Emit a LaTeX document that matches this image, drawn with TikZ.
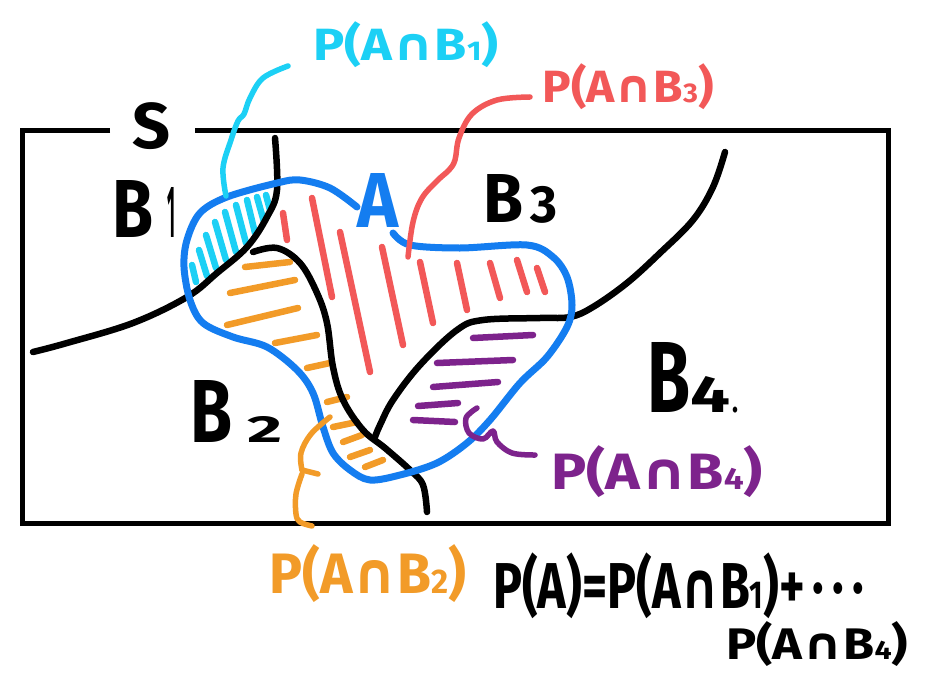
\documentclass[tikz,border=0pt]{standalone}
\usepackage{fontspec}
\setmainfont{Fira Sans}
\newfontfamily\symf{DejaVu Sans}
\usepackage{graphicx}
\definecolor{cy}{RGB}{28,208,245}
\definecolor{bl}{RGB}{20,125,240}
\definecolor{rd}{RGB}{242,88,88}
\definecolor{og}{RGB}{242,155,40}
\definecolor{pu}{RGB}{125,35,140}
\newcommand{\capp}{{\symf\bfseries ∩}}
\newcommand{\sbs}[1]{\scalebox{0.6}{#1}}
\newcommand{\fit}[3]{\resizebox*{#1pt}{#2pt}{\bfseries #3}}
\begin{document}
\begin{tikzpicture}[x=1pt,y=-1pt,
  pen/.style={line width=6.5pt, line cap=round, line join=round},
  bpen/.style={line width=7pt, line cap=round, line join=round},
  hatch/.style={line width=6.5pt, line cap=round},
  brace/.style={line width=5.5pt, line cap=round, line join=round},
  txt/.style={inner sep=0pt, outer sep=0pt}]
\useasboundingbox (0,0) rectangle (936,674);
\fill[white] (0,0) rectangle (936,674);

% hatching
\foreach \xa/\ya/\xb/\yb in {192/265/196/282, 199/250/207/276, 206/235/216/268, 215/222/226/260, 225/212/236/252, 236/205/246/243, 247/200/255/233, 257/197/264/222, 266/195/270/210}
  \draw[hatch, cy] (\xa,\ya) -- (\xb,\yb);
\foreach \xa/\ya/\xb/\yb in {283/213/287/240, 312/198/332/297, 340/232/370/372, 382/247/403/345, 420/262/433/323, 457/263/467/310, 490/263/500/298, 517/260/527/292, 537/268/545/292}
  \draw[hatch, rd] (\xa,\ya) -- (\xb,\yb);
\foreach \xa/\ya/\xb/\yb in {245/267/290/262, 230/293/295/280, 227/325/298/308, 275/343/317/335, 307/368/330/363, 327/402/347/397, 333/427/357/422, 343/442/362/435, 350/457/370/450, 365/467/383/460}
  \draw[hatch, og] (\xa,\ya) -- (\xb,\yb);
\foreach \xa/\ya/\xb/\yb in {473/338/533/335, 437/363/513/360, 433/387/498/382, 418/406/458/403, 413/420/455/422}
  \draw[hatch, pu] (\xa,\ya) -- (\xb,\yb);

% sample space frame with gap for S
\draw[line width=5pt, line join=miter] (110,130) -- (22,130) -- (22,523) -- (888,523) -- (888,130) -- (195,130);

% partition curves
\draw[pen] plot[smooth, tension=0.6] coordinates {(275,138) (277,190) (267,217) (247,247) (217,273) (187,297) (133,323) (67,343) (33,352)};
\draw[pen] plot[smooth, tension=0.6] coordinates {(253,252) (277,248) (300,263) (317,293) (327,323) (333,367) (343,400) (363,430) (385,448) (410,470) (423,485) (427,512)};
\draw[pen] plot[smooth, tension=0.6] coordinates {(725,152) (713,187) (693,220) (660,253) (627,283) (593,307) (570,317) (540,318) (483,320) (457,330) (420,365) (393,400) (380,425) (375,437)};

% event A outline
\draw[bpen, bl] plot[smooth, tension=0.55] coordinates {(393,233) (410,245) (460,248) (527,245) (553,257) (567,277) (572,305) (567,327) (547,357) (520,383) (490,420) (467,443) (437,463) (400,475) (370,480) (350,470) (333,453) (323,427) (313,393) (297,370) (267,347) (233,337) (203,323) (190,300) (184,267) (187,240) (200,213) (227,197) (277,183) (300,180) (330,188) (357,207)};

% labels
\node[txt, anchor=south west] (S) at (132,150) {\fit{38}{47}{S}};
\node[txt, anchor=south west] (B1) at (112,237) {\fit{41}{57}{B}\hspace{14pt}\fit{8}{50}{1}};
\node[txt, anchor=south west, text=bl] (A) at (357,227) {\fit{41}{54}{A}};
\node[txt, anchor=south west] (B3) at (483,223) {\fit{40}{48}{B}\hspace{7pt}\fit{27}{37}{3}};
\node[txt, anchor=south west] (B2) at (190,442) {\fit{42}{62}{B}\hspace{15pt}\fit{35}{26}{2}};
\node[txt, anchor=south west] (B4) at (647,413) {\fit{43}{70}{B}\fit{40}{36}{4}\hspace{2pt}\fit{6}{6}{.}};

\node[txt, text=cy] (L1) at (406,45) {\fit{185}{46}{P(A\capp B\sbs{1})}};
\node[txt, text=rd] (L3) at (628,87) {\fit{171}{46}{P(A\capp B\sbs{3})}};
\node[txt, text=pu] (L4) at (657,472) {\fit{212}{52}{P(A\capp B\sbs{4})}};
\node[txt, text=og] (L2) at (368,574) {\fit{197}{58}{P(A\capp B\sbs{2})}};
\node[txt, anchor=north west] (SUM) at (493,553) {\fit{371}{66}{P(A)=P(A\capp B\sbs{1})+\,·\,·\,·}};
\node[txt, anchor=north west] (SUM2) at (726,622) {\fit{182}{45}{P(A\capp B\sbs{4})}};

% braces (connectors from labels to regions)
\coordinate (c1s) at (288,66);  \coordinate (c1e) at (226,196);
\coordinate (c3s) at (530,97);  \coordinate (c3e) at (408,257);
\coordinate (c2s) at (330,417); \coordinate (c2e) at (312,526);
\coordinate (c4s) at (477,408); \coordinate (c4e) at (535,455);
\draw[brace, cy] plot[smooth, tension=0.6] coordinates {(c1s) (263,78) (250,98) (244,114) (238,121) (231,140) (223,168) (c1e)};
\draw[brace, rd] plot[smooth, tension=0.6] coordinates {(c3s) (497,100) (472,114) (459,138) (455,160) (449,170) (438,180) (422,198) (413,222) (c3e)};
\draw[brace, og] plot[smooth, tension=0.6] coordinates {(c2s) (311,434) (301,453) (302,470)};
\draw[brace, og] (302,470) -- (318,474);
\draw[brace, og] plot[smooth, tension=0.6] coordinates {(302,474) (296,494) (296,514) (300,522) (c2e)};
\draw[brace, pu] plot[smooth, tension=0.6] coordinates {(c4s) (466,418) (469,433) (483,439) (493,431) (497,442) (512,453) (c4e)};
\end{tikzpicture}
\end{document}
